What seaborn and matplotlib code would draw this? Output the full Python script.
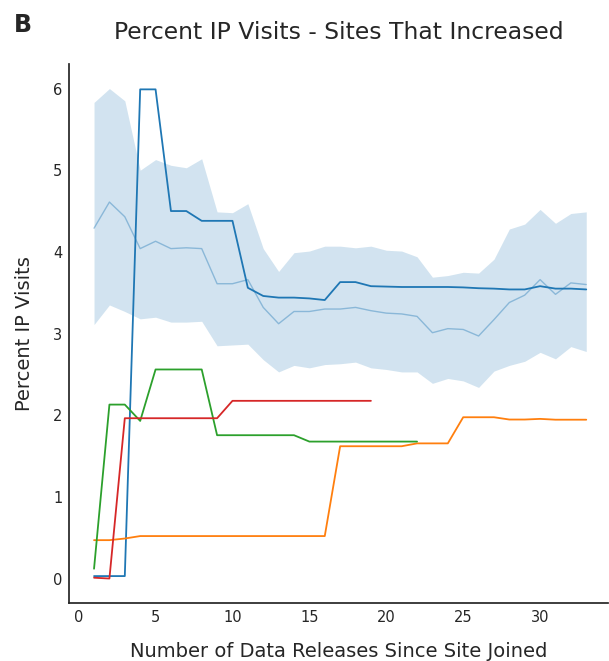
import numpy as np
import pandas as pd
import matplotlib
matplotlib.use("Agg")
import matplotlib.pyplot as plt
import seaborn as sns

# releases since a site joined
releases = list(range(1, 34))

# mean over all increasing sites, with its confidence band
mean_pct = [4.29, 4.61, 4.43, 4.04, 4.13, 4.04, 4.05, 4.04, 3.61, 3.61, 3.66,
            3.32, 3.12, 3.27, 3.27, 3.30, 3.30, 3.32, 3.28, 3.25, 3.24, 3.21,
            3.01, 3.06, 3.05, 2.97, 3.17, 3.38, 3.47, 3.66, 3.48, 3.62, 3.60]
ci_upper = [5.83, 6.00, 5.85, 5.00, 5.13, 5.06, 5.03, 5.14, 4.49, 4.48, 4.59,
            4.04, 3.76, 3.99, 4.01, 4.07, 4.07, 4.05, 4.07, 4.02, 4.01, 3.94,
            3.69, 3.71, 3.75, 3.74, 3.91, 4.28, 4.34, 4.52, 4.35, 4.47, 4.49]
ci_lower = [3.11, 3.35, 3.27, 3.18, 3.20, 3.14, 3.14, 3.15, 2.85, 2.86, 2.87,
            2.68, 2.53, 2.61, 2.58, 2.62, 2.63, 2.65, 2.58, 2.56, 2.53, 2.53,
            2.39, 2.45, 2.42, 2.34, 2.54, 2.61, 2.66, 2.77, 2.69, 2.84, 2.78]

# individual sites
site_a = [0.03, 0.03, 0.03, 5.99, 5.99, 4.50, 4.50, 4.38, 4.38, 4.38, 3.56,
          3.46, 3.44, 3.44, 3.43, 3.41, 3.63, 3.63, 3.58, 3.575, 3.57, 3.57,
          3.57, 3.57, 3.565, 3.555, 3.55, 3.54, 3.54, 3.58, 3.55, 3.55, 3.54]
site_b = [0.47, 0.47, 0.49] + [0.52] * 13 + [1.62] * 5 + [1.655] * 3 + \
         [1.975] * 3 + [1.947, 1.947, 1.955, 1.945, 1.945, 1.945]
site_c = [0.12, 2.13, 2.13, 1.93, 2.56, 2.56, 2.56, 2.56] + [1.755] * 6 + [1.677] * 8
site_d = [0.01, 0.0] + [1.963] * 7 + [2.176] * 10

sites = {"A": site_a, "B": site_b, "C": site_c, "D": site_d}
rows = []
for name, vals in sites.items():
    for r, v in zip(releases, vals):
        rows.append({"site": name, "release": r, "pct": v})
df = pd.DataFrame(rows)
avg = pd.DataFrame({"release": releases, "pct": mean_pct})

sns.set_theme(style="white")
plt.rcParams['font.family'] = ['DejaVu Sans']

fig = plt.figure(figsize=(6.09, 6.61), dpi=100)
ax = fig.add_axes([0.114, 0.0877, 0.884, 0.8154])

ax.fill_between(releases, ci_lower, ci_upper, color="#1f77b4", alpha=0.2, lw=0)
sns.lineplot(data=avg, x="release", y="pct", ax=ax, color="#1f77b4", alpha=0.4, lw=1)
sns.lineplot(data=df, x="release", y="pct", hue="site", ax=ax, lw=1.3,
             palette=["#1f77b4", "#ff7f0e", "#2ca02c", "#d62728"], legend=False)

ax.set_xlim(-0.6, 34.4)
ax.set_ylim(-0.3, 6.3)
ax.set_xticks([0, 5, 10, 15, 20, 25, 30])
ax.set_yticks([0, 1, 2, 3, 4, 5, 6])
ax.tick_params(labelsize=10.5, length=0, pad=5, colors="#262626")
ax.set_xlabel("Number of Data Releases Since Site Joined", fontsize=14, labelpad=12)
ax.set_ylabel("Percent IP Visits", fontsize=14, labelpad=14)
ax.set_title("Percent IP Visits - Sites That Increased", fontsize=16.9, pad=18)
sns.despine(ax=ax)
fig.text(0.022, 0.962, "B", fontsize=17, fontweight="bold", va="center")

fig.savefig("out.png", dpi=100)
